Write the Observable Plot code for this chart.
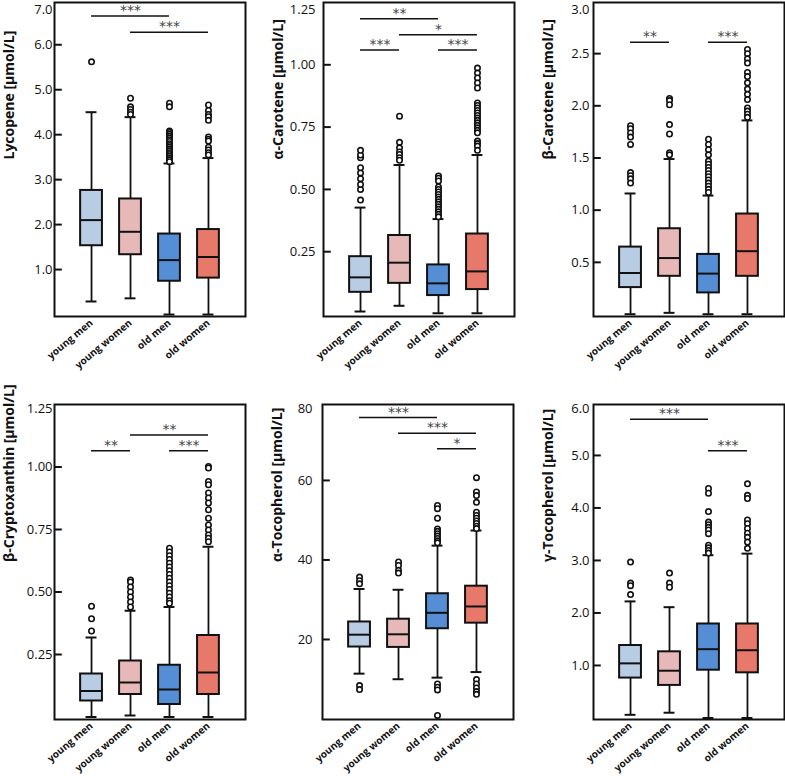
<!DOCTYPE html>
<html><head><meta charset="utf-8">
<script src="https://cdn.jsdelivr.net/npm/d3@7"></script>
<script src="https://cdn.jsdelivr.net/npm/@observablehq/plot@0.6"></script>
<style>
html,body{margin:0;padding:0;background:#fff;overflow:hidden}
#wrap{position:relative;width:785px;height:776px;overflow:hidden;background:#fff}
#wrap svg{position:absolute}
</style></head><body><div id="wrap"></div>
<script>
const groups = ["young men", "young women", "old men", "old women"];
const groupColors = ["#b8cce4", "#e6b9b8", "#558ed5", "#e6796a"];

const titles = ["Lycopene [µmol/L]", "α-Carotene [µmol/L]", "β-Carotene [µmol/L]",
                "β-Cryptoxanthin [µmol/L]", "α-Tocopherol [µmol/L]", "γ-Tocopherol [µmol/L]"];

// [low whisker, Q1, median, Q3, high whisker] per group
const lycopeneStats = [[0.29,1.53,2.10,2.76,4.50],[0.36,1.33,1.84,2.57,4.39],[0.0,0.74,1.21,1.79,3.36],[0.0,0.81,1.28,1.89,3.48]];
const lycopeneOutliers = [[5.62],[4.81,4.62,4.56,4.50,4.45],
  [4.70,4.62,4.08,4.05,4.01,3.97,3.93,3.89,3.85,3.80,3.76,3.72,3.68,3.64,3.60,3.56,3.52,3.48,3.44,3.40],
  [4.66,4.54,4.45,4.40,4.32,3.95,3.90,3.86,3.72,3.66,3.60,3.55]];
const lycopeneTests = [[1,3,6.64,"***"],[2,4,6.28,"***"]];
const lycopeneTicks = [1,2,3,4,5,6,7];

const aCaroteneStats = [[0.010,0.087,0.147,0.230,0.427],[0.033,0.123,0.206,0.315,0.598],[0.003,0.074,0.123,0.197,0.381],[0.003,0.098,0.171,0.321,0.638]];
const aCaroteneOutliers = [[0.457,0.50,0.52,0.543,0.566,0.587,0.627,0.638,0.657],
  [0.794,0.689,0.667,0.650,0.640,0.627,0.617],
  [0.554,0.545,0.534,0.51,0.50,0.49,0.48,0.47,0.46,0.45,0.44,0.43,0.42,0.41,0.40,0.39],
  [0.987,0.967,0.947,0.927,0.907,0.847,0.837,0.827,0.817,0.807,0.797,0.787,0.777,0.767,0.757,0.747,0.737,0.727,0.694,0.684,0.674,0.657]];
const aCaroteneTests = [[1,3,1.185,"**"],[2,4,1.121,"*"],[1,2,1.059,"***"],[3,4,1.059,"***"]];
const aCaroteneTicks = [0.25,0.5,0.75,1.0,1.25];

const bCaroteneStats = [[0.003,0.258,0.398,0.646,1.16],[0.016,0.366,0.541,0.822,1.49],[0.003,0.207,0.392,0.576,1.14],[0.003,0.366,0.607,0.963,1.86]];
const bCaroteneOutliers = [[1.81,1.78,1.74,1.70,1.63,1.36,1.33,1.30,1.26],
  [2.07,2.05,2.01,1.82,1.73,1.55,1.53],
  [1.68,1.63,1.58,1.53,1.47,1.44,1.41,1.38,1.35,1.32,1.29,1.26,1.23,1.20,1.17],
  [2.54,2.50,2.45,2.41,2.32,2.28,2.22,2.16,2.11,2.06,1.98,1.95,1.92,1.89]];
const bCaroteneTests = [[1,2,2.61,"**"],[3,4,2.61,"***"]];
const bCaroteneTicks = [0.5,1.0,1.5,2.0,2.5,3.0];

const bCryptoStats = [[0.0,0.064,0.104,0.172,0.318],[0.006,0.090,0.138,0.224,0.425],[0.0,0.050,0.110,0.207,0.44],[0.0,0.090,0.178,0.326,0.681]];
const bCryptoOutliers = [[0.443,0.393,0.344],
  [0.548,0.54,0.52,0.50,0.48,0.46,0.44],
  [0.675,0.66,0.645,0.63,0.615,0.60,0.585,0.57,0.555,0.54,0.525,0.51,0.495,0.48,0.465,0.455],
  [1.002,0.996,0.942,0.929,0.896,0.876,0.856,0.829,0.795,0.768,0.748,0.728,0.715,0.701]];
const bCryptoTests = [[1,2,1.065,"**"],[2,4,1.128,"**"],[3,4,1.065,"***"]];
const bCryptoTicks = [0.25,0.5,0.75,1.0,1.25];

const aTocoStats = [[11.4,18.1,21.2,24.4,32.7],[10.0,18.0,21.3,25.1,32.5],[10.4,22.7,26.7,31.5,43.6],[11.8,24.1,28.3,33.4,47.4]];
const aTocoOutliers = [[35.7,34.8,34.0,8.4,7.4],
  [39.5,38.6,37.4,36.7],
  [53.7,52.9,50.5,47.8,47.2,46.6,46.0,45.4,44.8,44.3,8.8,8.0,7.3,0.9],
  [60.7,57.1,56.2,54.5,52.0,51.2,50.5,49.8,49.2,48.5,47.9,9.9,8.8,7.8,6.9,6.2]];
const aTocoTests = [[1,3,75.8,"***"],[2,4,71.9,"***"],[3,4,68.0,"*"]];
const aTocoTicks = [20,40,60,80];

const gTocoStats = [[0.06,0.76,1.04,1.38,2.22],[0.10,0.62,0.90,1.26,2.11],[0.0,0.91,1.31,1.79,3.10],[0.0,0.86,1.29,1.79,3.13]];
const gTocoOutliers = [[2.97,2.57,2.52,2.35],
  [2.76,2.57,2.49],
  [4.37,4.28,3.93,3.73,3.68,3.63,3.58,3.51,3.29,3.24,3.19,3.14],
  [4.46,4.24,4.18,3.77,3.70,3.61,3.52,3.44,3.35,3.23]];
const gTocoTests = [[1,3,5.69,"***"],[3,4,5.09,"***"]];
const gTocoTicks = [1,2,3,4,5,6];

const panels = [
  {title: titles[0], stats: lycopeneStats, outliers: lycopeneOutliers, tests: lycopeneTests, ticks: lycopeneTicks, fmt: ".1f", domain: [-0.044, 6.94], left: 0, top: -8, plotH: 314, pad: 2, topDy: 7},
  {title: titles[1], stats: aCaroteneStats, outliers: aCaroteneOutliers, tests: aCaroteneTests, ticks: aCaroteneTicks, fmt: ".2f", domain: [-0.01, 1.25], left: 269, top: -8, plotH: 314, pad: 8, topDy: 7},
  {title: titles[2], stats: bCaroteneStats, outliers: bCaroteneOutliers, tests: bCaroteneTests, ticks: bCaroteneTicks, fmt: ".1f", domain: [-0.019, 2.99], left: 539, top: -8, plotH: 314, pad: 4, topDy: 7},
  {title: titles[3], stats: bCryptoStats, outliers: bCryptoOutliers, tests: bCryptoTests, ticks: bCryptoTicks, fmt: ".2f", domain: [-0.01, 1.25], left: 0, top: 394, plotH: 315, pad: 2, topDy: 4},
  {title: titles[4], stats: aTocoStats, outliers: aTocoOutliers, tests: aTocoTests, ticks: aTocoTicks, fmt: "d", domain: [-0.13, 79.1], left: 268, top: 394, plotH: 315, pad: 10, topDy: 4},
  {title: titles[5], stats: gTocoStats, outliers: gTocoOutliers, tests: gTocoTests, ticks: gTocoTicks, fmt: ".1f", domain: [-0.029, 5.97], left: 539, top: 394, plotH: 315, pad: 4, topDy: 4}
];

const INK = "#111";
const HALF_BOX = 0.28, HALF_CAP = 0.14;
const X_DOMAIN = [0.05, 4.95];
const TICK_LEN = 0.2; // inward tick length in x units

function makePanel(p) {
  const boxes = groups.map((g, i) => ({pos: i + 1, color: groupColors[i],
    low: p.stats[i][0], q1: p.stats[i][1], med: p.stats[i][2], q3: p.stats[i][3], high: p.stats[i][4]}));
  const dots = p.outliers.flatMap((arr, i) => arr.map(v => ({pos: i + 1, v})));
  const br = p.tests.map(([a, b, y, s]) => ({a, b, y, s, mid: (a + b) / 2}));
  const fmt = d3.format(p.fmt);
  const innerTicks = p.ticks.slice(0, -1);
  const topTick = p.ticks.slice(-1);
  const svg = Plot.plot({
    width: 246, height: p.plotH + 80,
    marginLeft: 54, marginRight: 1, marginTop: 10, marginBottom: 70,
    style: {fontFamily: "'Open Sans', sans-serif", fontSize: "13px", color: INK, background: "transparent", overflow: "visible"},
    x: {domain: X_DOMAIN, axis: null, label: null},
    y: {domain: p.domain, axis: null, label: null},
    color: {type: "identity"},
    marks: [
      Plot.ruleX(boxes, {x: "pos", y1: "low", y2: "q1", stroke: INK, strokeWidth: 1.8}),
      Plot.ruleX(boxes, {x: "pos", y1: "q3", y2: "high", stroke: INK, strokeWidth: 1.8}),
      Plot.ruleY(boxes, {y: "low", x1: d => d.pos - HALF_CAP, x2: d => d.pos + HALF_CAP, stroke: INK, strokeWidth: 2}),
      Plot.ruleY(boxes, {y: "high", x1: d => d.pos - HALF_CAP, x2: d => d.pos + HALF_CAP, stroke: INK, strokeWidth: 2}),
      Plot.rect(boxes, {x1: d => d.pos - HALF_BOX, x2: d => d.pos + HALF_BOX, y1: "q1", y2: "q3", fill: "color", stroke: INK, strokeWidth: 2}),
      Plot.ruleY(boxes, {y: "med", x1: d => d.pos - HALF_BOX, x2: d => d.pos + HALF_BOX, stroke: INK, strokeWidth: 2}),
      Plot.dot(dots, {x: "pos", y: "v", r: 2.7, stroke: INK, strokeWidth: 1.6, fill: "white"}),
      Plot.ruleY(br, {y: "y", x1: "a", x2: "b", stroke: INK, strokeWidth: 1.5}),
      Plot.text(br, {x: "mid", y: "y", text: "s", dy: -1, lineAnchor: "bottom", fontSize: 14, fill: "#444", ariaLabel: "stars", fontFamily: "DejaVu Sans"}),
      Plot.frame({stroke: INK, strokeWidth: 2}),
      Plot.ruleY(innerTicks, {y: d => d, x1: X_DOMAIN[0], x2: X_DOMAIN[0] + TICK_LEN, stroke: INK, strokeWidth: 2}),
      Plot.axisY({ticks: innerTicks, tickSize: 0, tickPadding: p.pad, tickFormat: fmt, fontSize: 13, label: null}),
      Plot.text(topTick, {text: d => fmt(d), frameAnchor: "top-left", textAnchor: "end", lineAnchor: "middle", dx: -p.pad, dy: p.topDy, fontSize: 13}),
      Plot.axisX({ticks: [1, 2, 3, 4], tickFormat: i => groups[i - 1], tickRotate: -40, tickSize: 0, tickPadding: 5, fontWeight: "bold", fontSize: 10, label: null}),
      Plot.text([p.title], {frameAnchor: "left", dx: -45, rotate: -90, fontWeight: "bold", fontSize: 14})
    ]
  });
  d3.select(svg).selectAll("g[aria-label='stars'] text").style("letter-spacing", "1.5px");
  svg.style.left = p.left + "px";
  svg.style.top = p.top + "px";
  return svg;
}

const wrap = document.getElementById("wrap");
for (const p of panels) wrap.appendChild(makePanel(p));
</script>
</body></html>
